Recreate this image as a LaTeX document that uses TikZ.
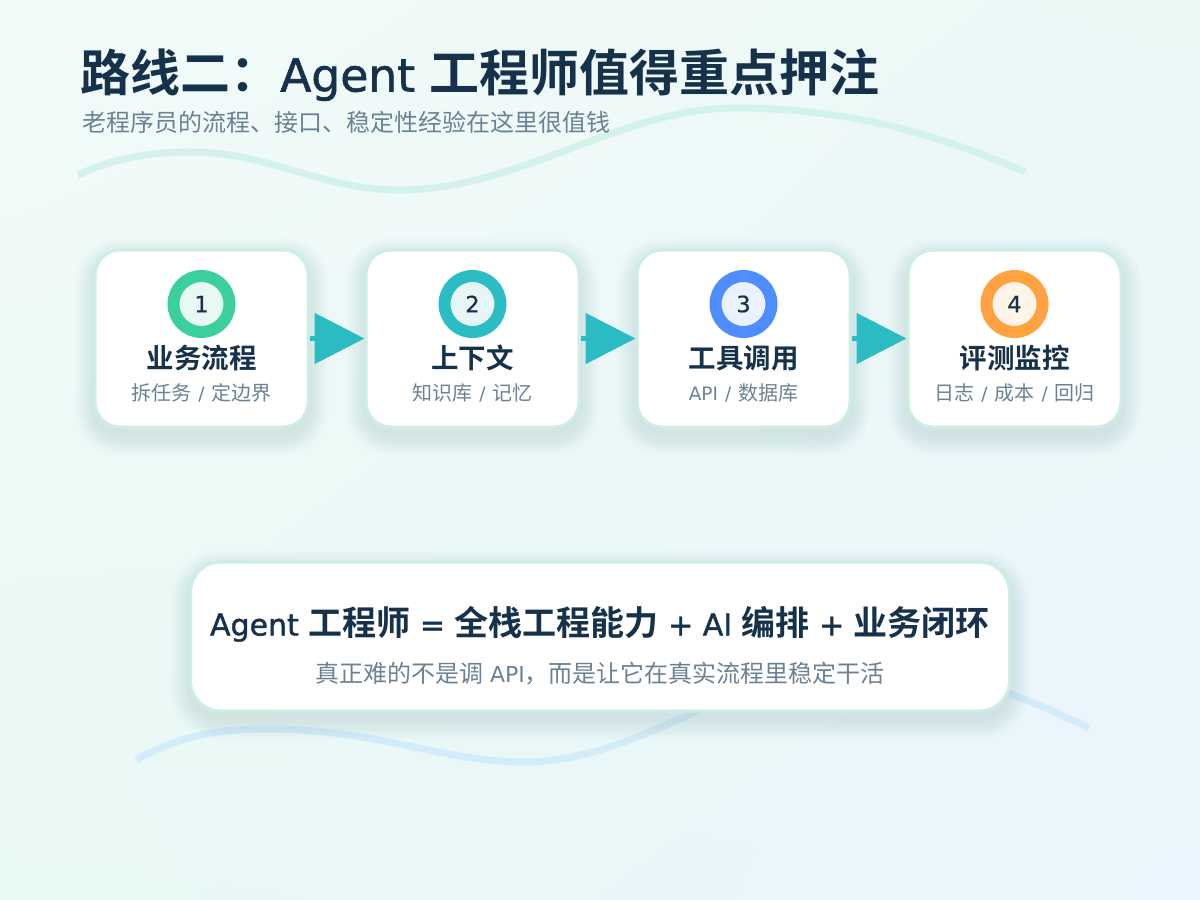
\documentclass[tikz,border=0pt]{standalone}
\usepackage{fontspec}
\setmainfont{Noto Sans CJK SC}[BoldFont={Noto Sans CJK SC Bold}]
\newfontfamily\lat{DejaVu Sans}
\newfontfamily\latb{DejaVu Sans}[BoldFont={DejaVu Sans}, BoldFeatures={FakeBold=1.3}]
\newfontfamily\latm{DejaVu Sans}[BoldFont={DejaVu Sans}, BoldFeatures={FakeBold=0.5}]
\usetikzlibrary{arrows.meta,shadings}
\definecolor{navy}{HTML}{16324A}
\definecolor{greyblue}{HTML}{6A8294}
\definecolor{cardborder}{HTML}{CDEEE3}
\definecolor{arrowteal}{HTML}{2BBBC3}
\definecolor{ringA}{HTML}{3CCF9E}
\definecolor{ringB}{HTML}{2BBCC4}
\definecolor{ringC}{HTML}{4F8CFF}
\definecolor{ringD}{HTML}{FFA23F}
\definecolor{innA}{HTML}{E8F8F4}
\definecolor{innB}{HTML}{E6F6F7}
\definecolor{innC}{HTML}{EAF2FF}
\definecolor{innD}{HTML}{FFF4E8}
\definecolor{waveA}{HTML}{D4F2EC}
\definecolor{waveB}{HTML}{D2ECF9}
\definecolor{bgUL}{HTML}{F2FBF9}
\definecolor{bgUR}{HTML}{EBF8F6}
\definecolor{bgLL}{HTML}{E8F8F4}
\definecolor{bgLR}{HTML}{EAF5FD}
\definecolor{shadowcol}{HTML}{5C9E94}
\newcommand\sepslash{\hspace{7pt}{\lat\mdseries\fontsize{18.5}{18.5}\selectfont /}\hspace{7pt}}
\newcommand\LatB[2]{{\latb\bfseries\fontsize{#1}{#1}\selectfont #2}}
\newcommand\softshadow[5]{%
  \foreach \k in {1,...,10}{%
    \pgfmathsetmacro\rr{#5+\k*2}%
    \pgfmathsetmacro\dd{\k*2}%
    \fill[shadowcol, opacity=0.016, rounded corners=\rr pt]
      ({#1-#3/2-\dd},{#2-#4/2-\dd+8}) rectangle ({#1+#3/2+\dd},{#2+#4/2+\dd+8});
  }}
\tikzset{
  card/.style={rounded corners=25pt, draw=cardborder, line width=3pt, fill=white,
    minimum width=213pt, minimum height=177pt, inner sep=0pt},
  bigcard/.style={card, rounded corners=30pt, minimum width=819pt, minimum height=149pt},
  ring/.style={circle, line width=12pt, minimum size=56pt, inner sep=0pt, text=navy, font=\latm\bfseries\fontsize{22.5}{22.5}\selectfont},
  cardtitle/.style={anchor=base, text=navy, inner sep=0pt, font=\fontsize{27.5}{27.5}\selectfont\bfseries},
  cardsub/.style={anchor=base, text=greyblue, inner sep=0pt, font=\fontsize{20}{20}\selectfont},
  flow/.style={draw=arrowteal, line width=5pt, -{Triangle[length=50pt,width=50pt]}},
  wave/.style={line width=7pt, line cap=butt}
}
\begin{document}
\begin{tikzpicture}[x=1pt,y=-1pt]
\useasboundingbox (0,0) rectangle (1200,900);
\shade[upper left=bgUL, upper right=bgUR, lower left=bgLL, lower right=bgLR] (0,0) rectangle (1200,900);
% waves
\draw[wave, draw=waveA] (78,175) .. controls (115,158) and (150,152) .. (190,152)
  .. controls (270,152) and (320,190) .. (400,190)
  .. controls (520,190) and (620,108) .. (735,108)
  .. controls (850,108) and (940,135) .. (1025,172);
\draw[wave, draw=waveB] (136,760) .. controls (180,735) and (220,729) .. (266,729)
  .. controls (380,729) and (440,762) .. (526,762)
  .. controls (640,762) and (760,660) .. (850,660)
  .. controls (940,660) and (1030,700) .. (1089,728);
% title
\node[anchor=base west, inner sep=0pt, text=navy, font=\fontsize{50}{50}\selectfont\bfseries] (title) at (80,91.5) {路线二：\LatB{45.6}{Agent }工程师值得重点押注};
\node[anchor=base west, inner sep=0pt, text=greyblue, font=\fontsize{24}{24}\selectfont] (subtitle) at (82,131) {老程序员的流程、接口、稳定性经验在这里很值钱};
% shadows
\softshadow{201.5}{338.5}{213}{177}{25}
\softshadow{472.5}{338.5}{213}{177}{25}
\softshadow{743.5}{338.5}{213}{177}{25}
\softshadow{1014.5}{338.5}{213}{177}{25}
\softshadow{600}{636.5}{819}{149}{30}
% cards
\node[card] (c1) at (201.5,338.5) {};
\node[card] (c2) at (472.5,338.5) {};
\node[card] (c3) at (743.5,338.5) {};
\node[card] (c4) at (1014.5,338.5) {};
\node[ring, draw=ringA, fill=innA] (n1) at (201.5,304) {1};
\node[ring, draw=ringB, fill=innB] (n2) at (472.5,304) {2};
\node[ring, draw=ringC, fill=innC] (n3) at (743.5,304) {3};
\node[ring, draw=ringD, fill=innD] (n4) at (1014.5,304) {4};
\node[cardtitle] (t1) at (201.5,368.5) {业务流程};
\node[cardtitle] (t2) at (472.5,368.5) {上下文};
\node[cardtitle] (t3) at (743.5,368.5) {工具调用};
\node[cardtitle] (t4) at (1014.5,368.5) {评测监控};
\node[cardsub] (s1) at (201.5,400.5) {拆任务\sepslash 定边界};
\node[cardsub] (s2) at (472.5,400.5) {知识库\sepslash 记忆};
\node[cardsub] (s3) at (743.5,400.5) {{\lat\fontsize{18.5}{18.5}\selectfont API}\sepslash 数据库};
\node[cardsub] (s4) at (1014.5,400.5) {日志\sepslash 成本\sepslash 回归};
% arrows
\draw[flow] (c1.east) -- (c2.west);
\draw[flow] (c2.east) -- (c3.west);
\draw[flow] (c3.east) -- (c4.west);
% bottom card
\node[bigcard] (b) at (600,636.5) {};
\node[anchor=base, inner sep=0pt, text=navy, font=\fontsize{34}{34}\selectfont\bfseries] (bt) at (600,635.5) {\LatB{30}{Agent }工程师\LatB{30}{\ =\ }全栈工程能力\LatB{30}{\ +\ AI }编排\LatB{30}{\ +\ }业务闭环};
\node[anchor=base, inner sep=0pt, text=greyblue, font=\fontsize{24}{24}\selectfont] (bs) at (600,682) {真正难的不是调{\lat\fontsize{22}{22}\selectfont\ API}，而是让它在真实流程里稳定干活};
\end{tikzpicture}
\end{document}
